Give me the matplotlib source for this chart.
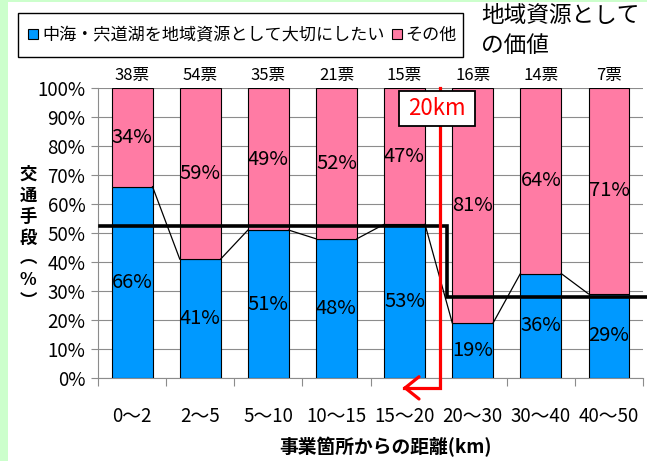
import matplotlib
matplotlib.use("Agg")
import matplotlib.pyplot as plt
from matplotlib.patches import Rectangle, FancyArrowPatch
from matplotlib.ticker import MultipleLocator, FixedLocator, FuncFormatter
import numpy as np

# ---- data ----
categories = ["0～2", "2～5", "5～10", "10～15", "15～20", "20～30", "30～40", "40～50"]
votes = ["38票", "54票", "35票", "21票", "15票", "16票", "14票", "7票"]
important = [66, 41, 51, 48, 53, 19, 36, 29]   # 中海・宍道湖を地域資源として大切にしたい
other = [34, 59, 49, 52, 47, 81, 64, 71]       # その他
near_avg = 52.5   # average within 20km
far_avg = 28      # average beyond 20km

BLUE = "#0099FF"
PINK = "#FF7BA4"
GRID = "#8C8C8C"
NUM_FONT = ["Liberation Sans Narrow", "Noto Sans CJK JP", "DejaVu Sans"]
JP_FONT = ["Noto Sans CJK JP", "DejaVu Sans"]
plt.rcParams["font.family"] = JP_FONT

W, H = 647, 461
fig = plt.figure(figsize=(W / 100, H / 100), dpi=100)
fig.patch.set_facecolor("#CCFFCC")
# white panel
fig.add_artist(Rectangle((8 / W, 0), 1 - 8 / W, 1 - 2 / H, transform=fig.transFigure,
                         facecolor="white", edgecolor="none", zorder=0))

ax = fig.add_axes([98 / W, 1 - 378 / H, (643 - 98) / W, (378 - 88) / H])
ax.set_facecolor("none")
x = np.arange(len(categories))
bw = 0.6

ax.bar(x, important, width=bw, color=BLUE, edgecolor="black", linewidth=0.8, zorder=3)
ax.bar(x, other, width=bw, bottom=important, color=PINK, edgecolor="black", linewidth=0.8, zorder=3)

# series lines between the tops of the blue bars
for i in range(len(x) - 1):
    ax.plot([x[i] + bw / 2, x[i + 1] - bw / 2], [important[i], important[i + 1]],
            color="black", lw=0.9, zorder=4)

# value labels
for i in range(len(x)):
    ax.text(x[i], important[i] / 2, f"{important[i]}%", ha="center", va="center",
            fontsize=14.5, family=NUM_FONT, zorder=6)
    ax.text(x[i], important[i] + other[i] / 2, f"{other[i]}%", ha="center", va="center",
            fontsize=14.5, family=NUM_FONT, zorder=6)
    ax.text(x[i], 101.3, votes[i], ha="center", va="bottom", fontsize=12,
            family=NUM_FONT, zorder=6, clip_on=False)

# average step lines
split = 4.63
ax.plot([-0.47, split, split, 7.6], [near_avg, near_avg, far_avg, far_avg],
        color="black", lw=2.6, solid_joinstyle="miter", zorder=5, clip_on=False)

# 20km marker
rx = 4.52
ax.plot([rx, rx, 3.99], [100, -3.4, -3.4], color="red", lw=2.3, zorder=7,
        clip_on=False, solid_joinstyle="miter")
arrow = FancyArrowPatch((4.1, -3.4), (3.93, -3.4), arrowstyle="->,head_length=0.5,head_width=0.4",
                        mutation_scale=20, color="red", lw=2.3, zorder=7, clip_on=False)
ax.add_patch(arrow)
ax.add_patch(Rectangle((3.92, 86.9), 1.12, 12.1, facecolor="white", edgecolor="black",
                       lw=1.3, zorder=8, clip_on=False))
ax.text(4.48, 92.9, "20km", color="red", ha="center", va="center", fontsize=16,
        family=NUM_FONT, zorder=9)

# axes styling
ax.set_xlim(-0.5, len(x) - 0.5)
ax.set_ylim(0, 100)
ax.yaxis.set_major_locator(MultipleLocator(10))
ax.yaxis.set_major_formatter(FuncFormatter(lambda v, p: f"{v:.0f}%"))
ax.tick_params(axis="y", labelsize=13.5)
ax.yaxis.grid(True, color=GRID, lw=0.8, zorder=0)
ax.set_axisbelow(True)
ax.set_xticks(x)
ax.set_xticklabels(categories, family=NUM_FONT, fontsize=13.5)
ax.xaxis.set_minor_locator(FixedLocator(np.arange(-0.5, len(x), 1.0)))
ax.tick_params(axis="x", which="major", length=0, pad=20)
ax.tick_params(axis="x", which="minor", length=6, color=GRID, width=0.8)
ax.tick_params(axis="y", length=5, color=GRID, width=0.8, pad=4)
for s in ("top", "right"):
    ax.spines[s].set_visible(False)
for s in ("left", "bottom"):
    ax.spines[s].set_color(GRID)
    ax.spines[s].set_linewidth(0.8)
for lab in ax.get_yticklabels():
    lab.set_family(NUM_FONT)

# x axis title
fig.text(385 / W, 1 - 447 / H, "事業箇所からの距離(km)", ha="center", va="center",
         fontsize=13.5, fontweight="bold")

# vertical (stacked) y axis title
fig.text(28 / W, 1 - 238 / H, "\n".join(["交", "通", "手", "段", "︵", "%", "︶"]),
         ha="center", va="center", ma="center", fontsize=12.5, fontweight="bold",
         linespacing=1.22)

# legend
fig.add_artist(Rectangle((18 / W, 1 - 57 / H), (463 - 18) / W, 44 / H, transform=fig.transFigure,
                         facecolor="white", edgecolor="black", lw=1.0, zorder=5))
fig.add_artist(Rectangle((28 / W, 1 - 39 / H), 10 / W, 10 / H, transform=fig.transFigure,
                         facecolor=BLUE, edgecolor="black", lw=0.8, zorder=6))
fig.text(42 / W, 1 - 35 / H, "中海・宍道湖を地域資源として大切にしたい", ha="left", va="center",
         fontsize=12.3, zorder=6)
fig.add_artist(Rectangle((392 / W, 1 - 39 / H), 10 / W, 10 / H, transform=fig.transFigure,
                         facecolor=PINK, edgecolor="black", lw=0.8, zorder=6))
fig.text(405 / W, 1 - 35 / H, "その他", ha="left", va="center", fontsize=12.3, zorder=6)

# title block
fig.text(481 / W, 1 - 15 / H, "地域資源として", ha="left", va="center", fontsize=16.3)
fig.text(481 / W, 1 - 46 / H, "の価値", ha="left", va="center", fontsize=16.3)

fig.savefig("out.png", dpi=100, facecolor=fig.get_facecolor())
